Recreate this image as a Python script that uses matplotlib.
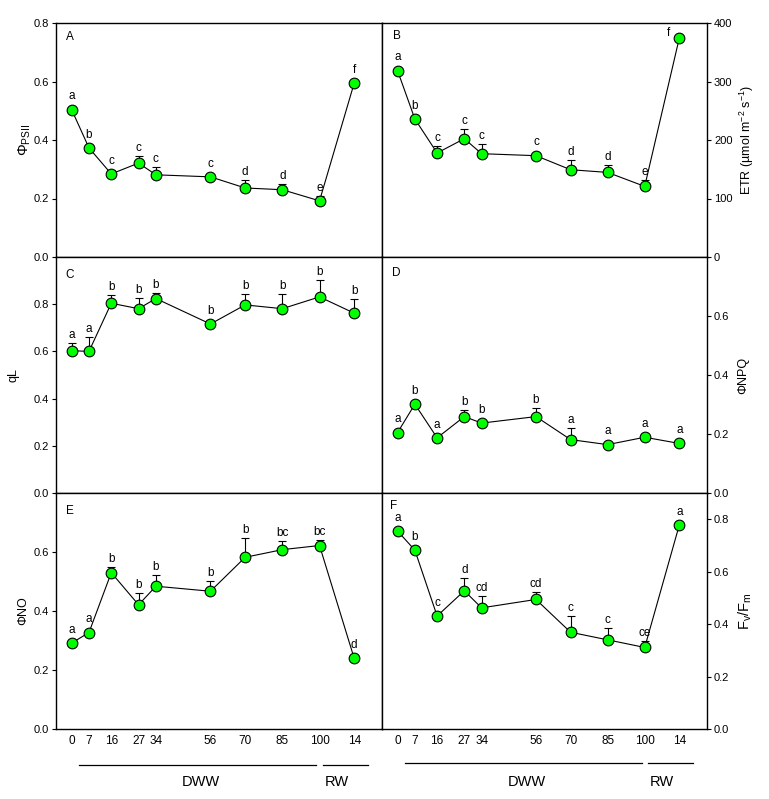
import numpy as np
import matplotlib
matplotlib.use('Agg')
import matplotlib.pyplot as plt

plt.rcParams['font.family'] = ['Liberation Sans', 'DejaVu Sans']
plt.rcParams['mathtext.fontset'] = 'custom'
plt.rcParams['mathtext.rm'] = 'Liberation Sans'
plt.rcParams['mathtext.it'] = 'Liberation Sans:italic'

# days of treatment (last point = 14 d of rewatering)
days = [0, 7, 16, 27, 34, 56, 70, 85, 100, 114]
day_labels = ['0', '7', '16', '27', '34', '56', '70', '85', '100', '14']

phi_psii = [0.504, 0.373, 0.284, 0.321, 0.281, 0.274, 0.236, 0.230, 0.192, 0.595]
phi_psii_err = [0.005, 0.005, 0.012, 0.025, 0.025, 0.008, 0.026, 0.02, 0.015, 0.005]
phi_psii_let = ['a', 'b', 'c', 'c', 'c', 'c', 'd', 'd', 'e', 'f']

etr = [318.5, 235.9, 177.8, 202.2, 176.6, 173.2, 149.2, 144.6, 120.7, 374.4]
etr_err = [3, 3, 12, 17, 17, 5, 16, 12, 11, 3]
etr_let = ['a', 'b', 'c', 'c', 'c', 'c', 'd', 'd', 'e', 'f']

ql = [0.603, 0.600, 0.804, 0.781, 0.824, 0.716, 0.797, 0.781, 0.831, 0.762]
ql_err = [0.032, 0.062, 0.034, 0.047, 0.025, 0.01, 0.048, 0.064, 0.072, 0.059]
ql_let = ['a', 'a', 'b', 'b', 'b', 'b', 'b', 'b', 'b', 'b']

phi_npq = [0.205, 0.301, 0.187, 0.259, 0.237, 0.259, 0.181, 0.164, 0.189, 0.168]
phi_npq_err = [0.005, 0.005, 0.005, 0.023, 0.005, 0.028, 0.039, 0.005, 0.01, 0.005]
phi_npq_let = ['a', 'b', 'a', 'b', 'b', 'b', 'a', 'a', 'a', 'a']

phi_no = [0.291, 0.327, 0.530, 0.421, 0.484, 0.467, 0.582, 0.608, 0.622, 0.239]
phi_no_err = [0.005, 0.005, 0.019, 0.041, 0.038, 0.035, 0.066, 0.028, 0.02, 0.005]
phi_no_let = ['a', 'a', 'b', 'b', 'b', 'b', 'b', 'bc', 'bc', 'd']

fvfm = [0.755, 0.682, 0.431, 0.527, 0.462, 0.494, 0.369, 0.340, 0.311, 0.778]
fvfm_err = [0.005, 0.005, 0.01, 0.049, 0.044, 0.027, 0.063, 0.044, 0.026, 0.005]
fvfm_let = ['a', 'b', 'c', 'd', 'cd', 'cd', 'c', 'c', 'ce', 'a']

W, H = 769, 799
fig = plt.figure(figsize=(W / 100, H / 100), dpi=100)

colx = [56, 382]
colw = [326, 325]
rows = [(23, 257), (257, 493), (493, 729)]


def make_ax(r, c):
    x0 = colx[c]
    top, bot = rows[r]
    return fig.add_axes([x0 / W, (H - bot) / H, colw[c] / W, (bot - top) / H])


def panel(ax, y, err, lets, ylim, yticks, ytl, letter, lpos, ylabel, lab_x, right, bottom,
          lab_size=9):
    x = np.array(days)
    y = np.array(y)
    err = np.array(err)
    ax.errorbar(x, y, yerr=[np.zeros_like(err), err], fmt='none', ecolor='black',
                elinewidth=0.8, capsize=2.8, capthick=0.8, zorder=2)
    ax.plot(x, y, '-', color='black', lw=0.8, zorder=2)
    ax.plot(x, y, 'o', ms=7.7, mfc='#00ff00', mec='black', mew=0.8, zorder=3)
    ax.set_xlim(-6.3, 125.2)
    ax.set_ylim(*ylim)
    ax.set_yticks(yticks)
    ax.set_yticklabels(ytl)
    for s in ax.spines.values():
        s.set_linewidth(1.0)

    # significance letters
    bb = ax.get_position()
    px_per_unit = bb.height * H / (ylim[1] - ylim[0])
    for xi, yi, ei, li in zip(x, y, err, lets):
        off = max(ei * px_per_unit, 5.3) + 8.0
        dx = 0
        if right and xi == 114 and li == 'f':
            dx, off = -11, 5
        ax.annotate(li, (xi, yi), xytext=(dx * 0.72, off * 0.72), textcoords='offset points',
                    ha='center', va='center', fontsize=8.5)

    ax.text(lpos[0], lpos[1], letter, transform=ax.transAxes, ha='center', va='center',
            fontsize=8.5)

    ax.tick_params(axis='y', direction='out', length=3, width=0.8, labelsize=8, pad=2)
    if right:
        ax.yaxis.tick_right()
        ax.yaxis.set_label_position('right')
    ax.set_ylabel(ylabel, fontsize=lab_size)
    ax.yaxis.label.set_va('center')
    ax.yaxis.label.set_ha('center')
    ax.yaxis.set_label_coords(lab_x, 0.5)

    if bottom:
        ax.set_xticks(days)
        ax.set_xticklabels(day_labels)
        ax.tick_params(axis='x', length=0, labelsize=8.5, pad=4)
    else:
        ax.set_xticks([])


ax_a = make_ax(0, 0)
panel(ax_a, phi_psii, phi_psii_err, phi_psii_let, (0, 0.8), [0, 0.2, 0.4, 0.6, 0.8],
      ['0.0', '0.2', '0.4', '0.6', '0.8'], 'A', (0.043, 0.941),
      r'$\Phi_{\mathrm{PSII}}$', -0.095, False, False, lab_size=10.5)

ax_b = make_ax(0, 1)
panel(ax_b, etr, etr_err, etr_let, (0, 400), [0, 100, 200, 300, 400],
      ['0', '100', '200', '300', '400'], 'B', (0.045, 0.944),
      r'ETR (µmol m$^{-2}$ s$^{-1}$)', 1.122, True, False)

ax_c = make_ax(1, 0)
panel(ax_c, ql, ql_err, ql_let, (0, 1.0), [0, 0.2, 0.4, 0.6, 0.8],
      ['0.0', '0.2', '0.4', '0.6', '0.8'], 'C', (0.043, 0.924),
      'qL', -0.129, False, False)

ax_d = make_ax(1, 1)
panel(ax_d, phi_npq, phi_npq_err, phi_npq_let, (0, 0.8), [0, 0.2, 0.4, 0.6],
      ['0.0', '0.2', '0.4', '0.6'], 'D', (0.045, 0.931),
      'ΦNPQ', 1.111, True, False)

ax_e = make_ax(2, 0)
panel(ax_e, phi_no, phi_no_err, phi_no_let, (0, 0.8), [0, 0.2, 0.4, 0.6],
      ['0.0', '0.2', '0.4', '0.6'], 'E', (0.043, 0.924),
      'ΦNO', -0.101, False, True)

ax_f = make_ax(2, 1)
panel(ax_f, fvfm, fvfm_err, fvfm_let, (0, 0.9), [0, 0.2, 0.4, 0.6, 0.8],
      ['0.0', '0.2', '0.4', '0.6', '0.8'], 'F', (0.035, 0.945),
      r'F$_{\mathrm{v}}$/F$_{\mathrm{m}}$', 1.117, True, True, lab_size=10.5)

# treatment bars under the bottom panels
for ax, yl, yt in [(ax_e, -0.153, -0.223), (ax_f, -0.144, -0.223)]:
    tr = ax.get_xaxis_transform()
    ax.plot([2.9, 98.7], [yl, yl], color='black', lw=0.9, transform=tr, clip_on=False)
    ax.plot([101.5, 119.5], [yl, yl], color='black', lw=0.9, transform=tr, clip_on=False)
    ax.text(52.3, yt, 'DWW', transform=tr, ha='center', va='center', fontsize=10.5)
    ax.text(106.8, yt, 'RW', transform=tr, ha='center', va='center', fontsize=10.5)

fig.savefig('out.png', dpi=100)
